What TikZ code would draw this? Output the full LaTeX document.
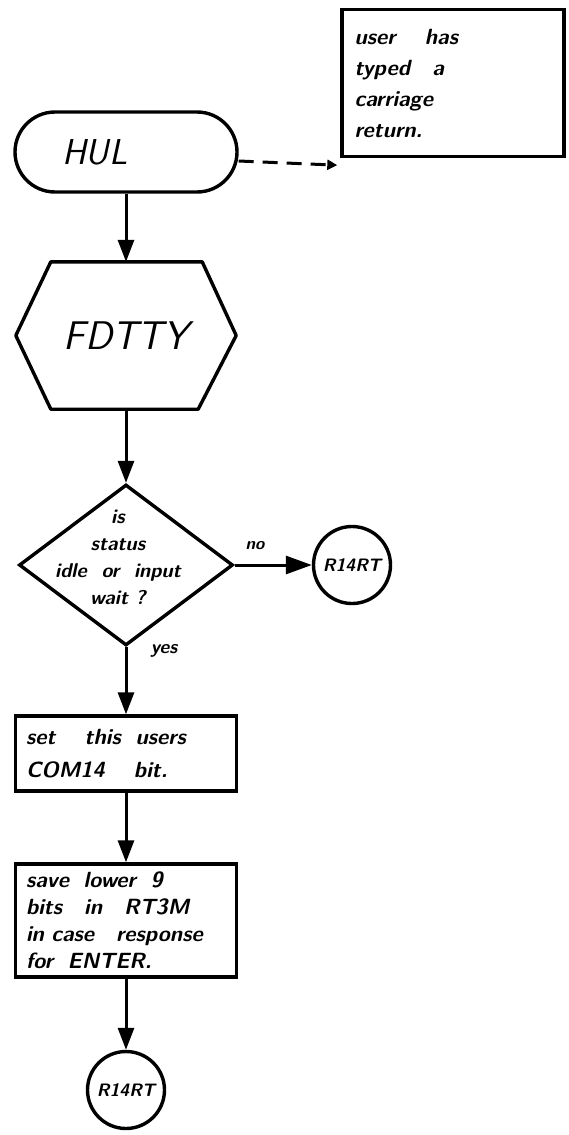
\documentclass[tikz,border=0pt]{standalone}
\usetikzlibrary{arrows.meta,shapes.geometric}

\begin{document}
\begin{tikzpicture}[
    x=1pt, y=-1pt,
    every node/.style={font=\sffamily\itshape, inner sep=0pt},
    outline/.style={draw, line width=3.4pt},
    flow/.style={line width=3pt, -{Triangle[length=22pt,width=16pt]}},
    stepbox/.style={outline, rectangle, minimum width=221pt, text width=200pt, align=left,
        font=\sffamily\bfseries\itshape\fontsize{22}{27}\selectfont},
    exitpt/.style={outline, circle, minimum size=77pt,
        font=\sffamily\bfseries\itshape\fontsize{18}{20}\selectfont},
    tag/.style={font=\sffamily\bfseries\itshape\fontsize{19}{20}\selectfont},
]
    \useasboundingbox (0,0) rectangle (568,1135);

    % entry point and its comment
    \node[outline, rectangle, rounded corners=40pt, minimum width=222pt, minimum height=80pt,
        text width=128pt, align=left, font=\sffamily\itshape\fontsize{36}{38}\selectfont]
        (hul) at (126,152) {HUL};
    \node[outline, rectangle, minimum width=222pt, minimum height=147pt, text width=197pt, align=left,
        font=\sffamily\bfseries\itshape\fontsize{22}{31}\selectfont] (note) at (453,83)
        {user\quad\ has\\typed\quad a\\carriage\\return.};
    \draw[line width=3pt, dash pattern=on 15pt off 9pt, -{Triangle[length=10pt,width=10pt]}]
        ([yshift=-9pt]hul.east) -- ([shift={(-3pt,-7pt)}]note.south west);

    % subroutine call
    \node[minimum width=220pt, minimum height=147pt,
        font=\sffamily\itshape\fontsize{40}{42}\selectfont] (fdtty) at (126,335.5) {FDTTY};
    \draw[outline, line join=round] ([xshift=35pt]fdtty.north west) -- ([xshift=-34pt]fdtty.north east)
        -- (fdtty.east) -- ([xshift=-38pt]fdtty.south east) -- ([xshift=35pt]fdtty.south west)
        -- (fdtty.west) -- cycle;

    % test
    \node[outline, diamond, minimum width=214pt, minimum height=161pt] (query) at (126,565) {};
    \node[align=center, font=\sffamily\bfseries\itshape\fontsize{20}{27}\selectfont] (querytext)
        at (118,557) {is\\status\\idle\ \ or\ \ input\\wait ?};
    \node[exitpt] (exitno) at (352,565) {R14RT};
    \draw[line width=3pt, -{Triangle[length=26pt,width=18pt]}] (query.east) -- (exitno);
    \node[tag, font=\sffamily\bfseries\itshape\fontsize{17}{18}\selectfont] (nolabel) at (255,546) {no};
    \node[tag] (yeslabel) at (164,651) {yes};

    % normal path
    \node[stepbox, minimum height=75pt, font=\sffamily\bfseries\itshape\fontsize{22}{33}\selectfont]
        (setbit) at (126,753.5) {set\quad\ this\ \ users\\COM14\quad\ bit.};
    \node[stepbox, minimum height=113pt] (savebits) at (126,920.5)
        {save\ \ lower\ \ 9\\bits\quad in\quad RT3M\\in case\quad response\\for\ \ ENTER.};
    \node[exitpt] (exitend) at (126,1090) {R14RT};

    \foreach \from/\to in {hul/fdtty, fdtty/query, query/setbit, setbit/savebits, savebits/exitend}
        \draw[flow] (\from) -- (\to);
\end{tikzpicture}
\end{document}
